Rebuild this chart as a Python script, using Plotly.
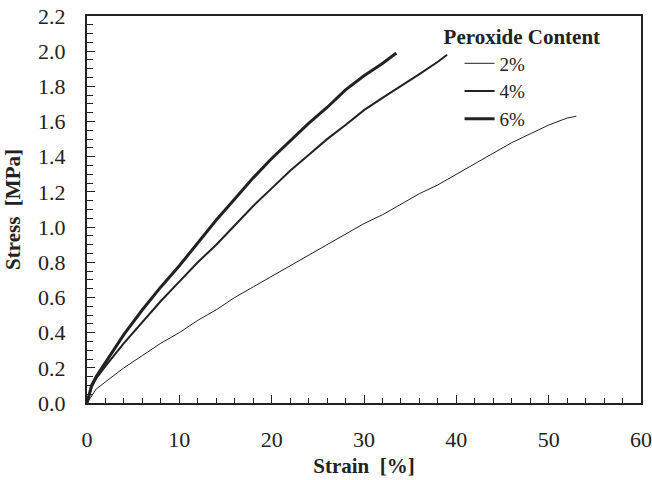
import plotly.graph_objects as go

# Data
strain_2 = [0, 1, 2, 4, 6, 8, 10, 12, 14, 16, 18, 20, 22, 24, 26, 28, 30, 32, 34, 36, 38, 40, 42, 44, 46, 48, 50, 52, 53]
stress_2 = [0, 0.08, 0.12, 0.20, 0.27, 0.34, 0.40, 0.47, 0.53, 0.60, 0.66, 0.72, 0.78, 0.84, 0.90, 0.96, 1.02, 1.07, 1.13, 1.19, 1.24, 1.30, 1.36, 1.42, 1.48, 1.53, 1.58, 1.62, 1.63]

strain_4 = [0, 0.5, 1, 2, 4, 6, 8, 10, 12, 14, 16, 18, 20, 22, 24, 26, 28, 30, 32, 34, 36, 38, 39]
stress_4 = [0, 0.09, 0.14, 0.21, 0.34, 0.46, 0.58, 0.69, 0.80, 0.90, 1.01, 1.12, 1.22, 1.32, 1.41, 1.50, 1.58, 1.665, 1.735, 1.80, 1.87, 1.94, 1.98]

strain_6 = [0, 0.5, 1, 2, 4, 6, 8, 10, 12, 14, 16, 18, 20, 22, 24, 26, 28, 30, 32, 33.5]
stress_6 = [0, 0.10, 0.15, 0.23, 0.39, 0.53, 0.66, 0.78, 0.91, 1.04, 1.16, 1.28, 1.39, 1.49, 1.59, 1.68, 1.78, 1.86, 1.93, 1.99]

series_names = ["2%", "4%", "6%"]
line_widths = [1, 2, 3]

FONT = "Liberation Serif, Times New Roman, serif"
INK = "#222222"

fig = go.Figure()
for name, xs, ys, w in zip(series_names, [strain_2, strain_4, strain_6], [stress_2, stress_4, stress_6], line_widths):
    fig.add_trace(go.Scatter(x=xs, y=ys, mode="lines", name=name,
                             line=dict(color=INK, width=w)))

axis_common = dict(
    showgrid=False, zeroline=False, automargin=True,
    showline=True, linecolor=INK, linewidth=2, mirror=True,
    ticks="inside", tickcolor=INK, tickwidth=1, ticklen=8,
    tickfont=dict(family=FONT, size=22, color=INK),
)

fig.update_xaxes(
    range=[0, 60], tick0=0, dtick=10,
    minor=dict(ticks="inside", dtick=2, ticklen=5, tickcolor=INK, tickwidth=1),
    title=dict(text="<b>Strain  [%]</b>", font=dict(family=FONT, size=21, color=INK), standoff=7),
    ticklabelstandoff=16,
    **axis_common,
)
fig.update_yaxes(
    range=[0, 2.2], tick0=0, dtick=0.2, tickformat=".1f",
    minor=dict(ticks="inside", dtick=0.05, ticklen=6, tickcolor=INK, tickwidth=1),
    title=dict(text="<b>Stress  [MPa]</b>", font=dict(family=FONT, size=21, color=INK), standoff=12),
    ticklabelstandoff=15,
    **axis_common,
)

fig.update_layout(
    width=652, height=480,
    margin=dict(l=87, r=11, t=16, b=77, autoexpand=False),
    paper_bgcolor="white", plot_bgcolor="white",
    font=dict(family=FONT, color=INK),
    legend=dict(
        x=0.64, y=0.997, xanchor="left", yanchor="top",
        bgcolor="rgba(0,0,0,0)",
        title=dict(text="<b>Peroxide Content</b>", side="top",
                   font=dict(family=FONT, size=21, color=INK)),
        font=dict(family=FONT, size=19, color=INK),
        itemwidth=30, tracegroupgap=0, indentation=18,
    ),
)

# Remove the default page margin so the 652x480 figure fills the window exactly.
fig.write_html(
    "out.html",
    config={"displayModeBar": False},
    post_script="document.body.style.margin='0';document.body.style.overflow='hidden';",
)
